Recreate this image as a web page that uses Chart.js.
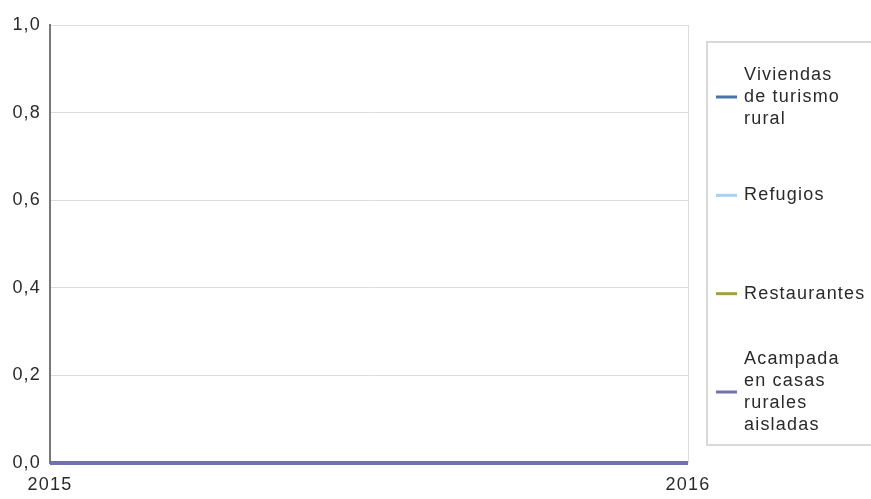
<!DOCTYPE html>
<html>
<head>
<meta charset="utf-8">
<script src="https://cdn.jsdelivr.net/npm/chart.js@4.4.0/dist/chart.umd.min.js"></script>
<style>
  body { margin: 0; background: #fff; }
  #wrap { width: 871px; height: 499px; }
</style>
</head>
<body>
<div id="wrap"><canvas id="chart" width="871" height="499"></canvas></div>
<script>
// values - every series sits flat at zero
const years = ['2015', '2016'];
const viviendas = [0, 0];
const refugios = [0, 0];
const restaurantes = [0, 0];
const acampada = [0, 0];
const seriesNames = ['Viviendas de turismo rural', 'Refugios', 'Restaurantes', 'Acampada en casas rurales aisladas'];
const seriesColors = ['#4a74a8', '#a8d0f5', '#a0a040', '#7272aa'];

const FONT = '"Liberation Sans", Arial, sans-serif';
const SPACING = '1.2px';

// the original text is quite spread out, so add some letter spacing
const spacing = {
  id: 'spacing',
  beforeUpdate(chart) { chart.ctx.letterSpacing = SPACING; },
  beforeDraw(chart) { chart.ctx.letterSpacing = SPACING; }
};

// legend drawn by hand so the long names can wrap like the original
const boxLegend = {
  id: 'boxLegend',
  afterDraw(chart) {
    const ctx = chart.ctx;
    const left = 707, top = 42, bottom = 445;
    ctx.save();
    ctx.strokeStyle = '#d9d9d9';
    ctx.lineWidth = 2;
    ctx.strokeRect(left, top, 200, bottom - top);

    ctx.font = '18px ' + FONT;
    ctx.letterSpacing = SPACING;
    ctx.fillStyle = '#2a2a2a';
    ctx.textBaseline = 'middle';
    const lineH = 22;
    const firstC = top + 55, lastC = bottom - 53;
    const sets = chart.data.datasets;
    sets.forEach((ds, i) => {
      const cy = firstC + i * (lastC - firstC) / (sets.length - 1);
      // wrap words
      const words = ds.label.split(' ');
      const lines = [];
      let cur = '';
      words.forEach(w => {
        const t = cur ? cur + ' ' + w : w;
        if (cur && ctx.measureText(t).width > 102) { lines.push(cur); cur = w; } else { cur = t; }
      });
      lines.push(cur);
      ctx.strokeStyle = ds.borderColor;
      ctx.lineWidth = 3;
      ctx.beginPath();
      ctx.moveTo(716, cy);
      ctx.lineTo(737, cy);
      ctx.stroke();
      const y0 = cy - (lines.length - 1) * lineH / 2;
      lines.forEach((l, k) => ctx.fillText(l, 744, y0 + k * lineH));
    });
    ctx.restore();
  }
};

new Chart(document.getElementById('chart'), {
  type: 'line',
  data: {
    labels: years,
    datasets: [
      { label: seriesNames[0], data: viviendas, borderColor: seriesColors[0], order: 4 },
      { label: seriesNames[1], data: refugios, borderColor: seriesColors[1], order: 3 },
      { label: seriesNames[2], data: restaurantes, borderColor: seriesColors[2], order: 2 },
      { label: seriesNames[3], data: acampada, borderColor: seriesColors[3], order: 1 }
    ]
  },
  options: {
    responsive: false,
    animation: false,
    layout: { padding: { top: 25, right: 183, left: 0, bottom: 0 } },
    elements: {
      point: { radius: 0 },
      line: { borderWidth: 4, tension: 0 }
    },
    datasets: { line: { clip: false } },
    plugins: {
      legend: { display: false },
      tooltip: { enabled: false }
    },
    scales: {
      x: {
        offset: false,
        afterFit(scale) { scale.height = 36; },
        grid: { color: '#dcdcdc', drawTicks: false },
        border: { display: false },
        ticks: { color: '#2a2a2a', font: { family: FONT, size: 18 }, padding: 11, maxRotation: 0 }
      },
      y: {
        min: 0,
        max: 1,
        afterFit(scale) { scale.width = 50; },
        grid: { color: '#dcdcdc', drawTicks: false },
        border: { color: '#777', width: 2 },
        ticks: {
          stepSize: 0.2,
          color: '#2a2a2a',
          font: { family: FONT, size: 18 },
          padding: 9,
          callback: v => v.toFixed(1).replace('.', ',')
        }
      }
    }
  },
  plugins: [spacing, boxLegend]
});
</script>
</body>
</html>
